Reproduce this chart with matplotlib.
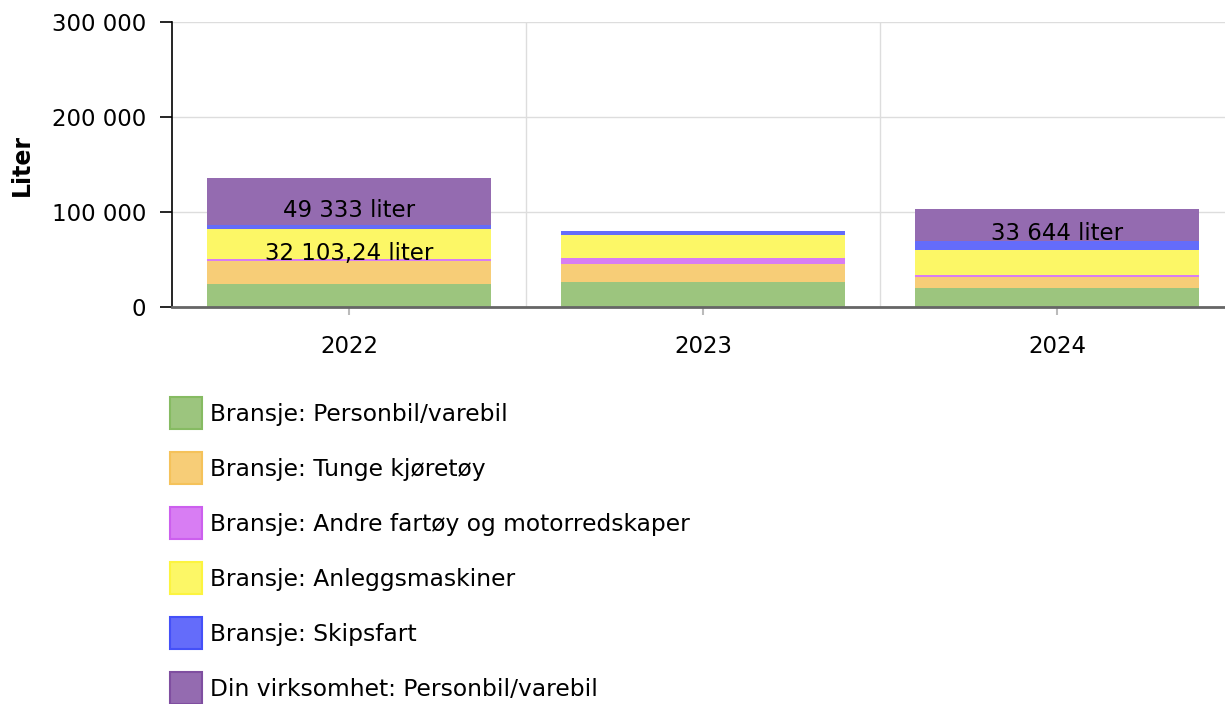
import matplotlib
matplotlib.use("Agg")
import matplotlib.pyplot as plt
from matplotlib.patches import Patch
import numpy as np

years = ["2022", "2023", "2024"]
series_names = [
    "Bransje: Personbil/varebil",
    "Bransje: Tunge kjøretøy",
    "Bransje: Andre fartøy og motorredskaper",
    "Bransje: Anleggsmaskiner",
    "Bransje: Skipsfart",
    "Din virksomhet: Personbil/varebil",
]
personbil = [24500, 26000, 20000]
tunge = [24200, 19400, 11500]
andre = [1400, 6200, 2000]
anlegg = [32103.24, 23700, 26300]
skipsfart = [4200, 4200, 10200]
din_virksomhet = [49333, 0, 33644]
series_values = [personbil, tunge, andre, anlegg, skipsfart, din_virksomhet]
colors = ["#9cc57e", "#f7cd77", "#d87df3", "#fcf766", "#646cfa", "#946bb0"]
edge_colors = ["#86bb62", "#f5c25a", "#cc5fee", "#fcf43f", "#4450f8", "#7f4ea0"]
# segments with data labels: (series index, year index)
labelled = [(5, 0), (3, 0), (5, 2)]

yticks = [0, 100000, 200000, 300000]

plt.rcParams["font.family"] = ["DejaVu Sans"]
FS = 16.5
LEG_FS = 16.8

fig = plt.figure(figsize=(12.25, 7.04), dpi=100)
ax = fig.add_axes([172 / 1225, 1 - 307 / 704, 1062 / 1225, 285 / 704])

x = np.arange(len(years))
bottom = np.zeros(len(years))
bars = []
for vals, col in zip(series_values, colors):
    ax.bar(x, vals, width=0.8, bottom=bottom, color=col, zorder=2, linewidth=0)
    bars.append((np.array(bottom), np.array(vals, dtype=float)))
    bottom = bottom + np.array(vals, dtype=float)


def fmt_no(v):
    if abs(v - round(v)) > 1e-9:
        s = f"{v:,.2f}"
        s = s.replace(",", " ").replace(".", ",")
    else:
        s = f"{v:,.0f}".replace(",", " ")
    return s


for si, yi in labelled:
    b0, vals = bars[si]
    center = b0[yi] + vals[yi] / 2
    ax.annotate(f"{fmt_no(vals[yi])} liter", (x[yi], center), xytext=(0, -6.5),
                textcoords="offset points", ha="center", va="center",
                fontsize=FS, color="black", zorder=5)

ax.set_xlim(-0.5, len(years) - 0.5)
ax.set_ylim(0, 300000)
ax.set_yticks(yticks)
ax.set_yticklabels([fmt_no(v) for v in yticks], fontsize=FS)
ax.set_xticks(x)
ax.set_xticklabels(years, fontsize=FS)
ax.set_xticks(np.arange(len(years) - 1) + 0.5, minor=True)

ax.grid(axis="y", color="#dddddd", linewidth=1, zorder=0)
ax.grid(axis="x", which="minor", color="#dddddd", linewidth=1, zorder=0)
ax.set_axisbelow(True)

for s in ["top", "right"]:
    ax.spines[s].set_visible(False)
ax.spines["left"].set_color("black")
ax.spines["left"].set_linewidth(1.2)
ax.spines["bottom"].set_color("#666666")
ax.spines["bottom"].set_linewidth(2)
ax.tick_params(axis="y", length=8.6, width=1.2, color="black", pad=10)
ax.tick_params(axis="x", which="major", length=6, width=1.5, color="#bbbbbb", pad=14)
ax.tick_params(axis="x", which="minor", length=0)

ax.set_ylabel("Liter", fontsize=FS + 0.5, fontweight="bold", labelpad=13)

handles = [Patch(facecolor=c, edgecolor=e, linewidth=1.5, label=n)
           for n, c, e in zip(series_names, colors, edge_colors)]
fs_px = LEG_FS * 100 / 72
hh = (32 / fs_px - 0.245) / 0.65
fig.legend(handles=handles, loc="upper left",
           bbox_to_anchor=(170 / 1225, 1 - 397 / 704),
           frameon=False, fontsize=LEG_FS, borderpad=0, borderaxespad=0,
           handlelength=32 / fs_px, handleheight=hh,
           handletextpad=8 / fs_px, labelspacing=23 / fs_px)

fig.savefig("out.png", dpi=100)
